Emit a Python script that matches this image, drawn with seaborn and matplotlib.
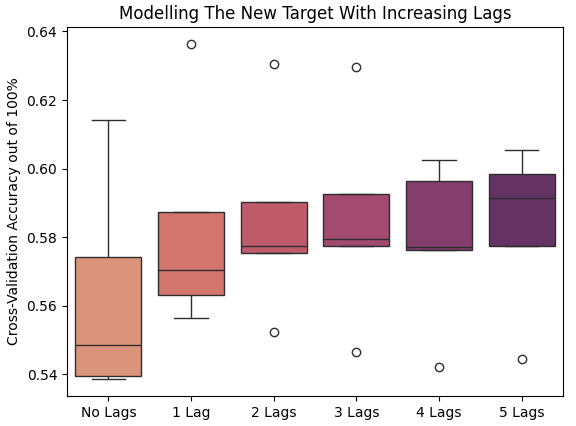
import pandas as pd
import matplotlib
matplotlib.use("Agg")
import matplotlib.pyplot as plt
import seaborn as sns

lag_names = ["No Lags", "1 Lag", "2 Lags", "3 Lags", "4 Lags", "5 Lags"]

# cross-validation fold scores per model
no_lags = [0.5386, 0.5395, 0.5485, 0.5743, 0.6143]
lag_1 = [0.5564, 0.5633, 0.5704, 0.5875, 0.6364]
lag_2 = [0.5525, 0.5754, 0.5773, 0.5904, 0.6304]
lag_3 = [0.5464, 0.5773, 0.5794, 0.5925, 0.6295]
lag_4 = [0.5423, 0.5764, 0.5772, 0.5963, 0.6024]
lag_5 = [0.5444, 0.5773, 0.5913, 0.5983, 0.6053]

scores = [no_lags, lag_1, lag_2, lag_3, lag_4, lag_5]
rows = []
for name, vals in zip(lag_names, scores):
    for v in vals:
        rows.append({"model": name, "accuracy": v})
df = pd.DataFrame(rows)

fig = plt.figure(figsize=(5.76, 4.26), dpi=100)
ax = fig.add_subplot(111)
fig.subplots_adjust(left=0.1163, right=0.9774, top=0.9366, bottom=0.0704)

sns.boxplot(data=df, x="model", y="accuracy", hue="model", palette="flare",
            legend=False, ax=ax)
ax.set_xlabel("")
ax.set_ylabel("Cross-Validation Accuracy out of 100%")
ax.set_title("Modelling The New Target With Increasing Lags")

fig.savefig("out.png", dpi=100)
